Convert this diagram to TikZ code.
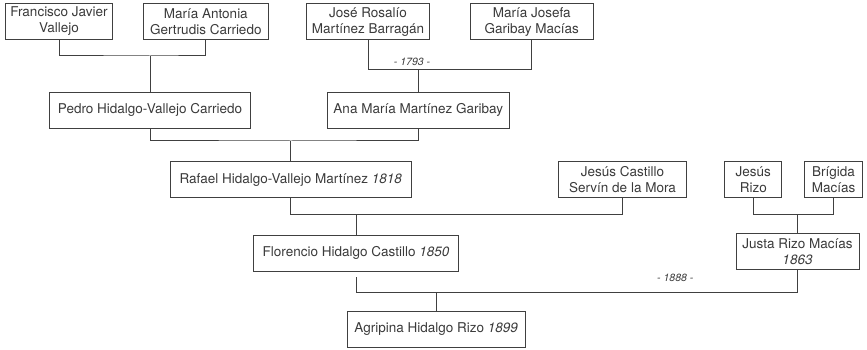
\documentclass[tikz,border=0pt]{standalone}
\usepackage{fontspec}
\setmainfont{TeX Gyre Heros}
\definecolor{textc}{HTML}{3A3A3A}
\definecolor{linec}{HTML}{404040}
\tikzset{
  person/.style={draw=linec, line width=1pt, minimum height=36pt, inner sep=0pt,
    align=center, text=textc, font=\fontsize{13.5}{16}\selectfont},
  conn/.style={draw=linec, line width=1pt},
  yearlbl/.style={text=textc, inner sep=0pt, font=\fontsize{10.5}{12}\selectfont\itshape}
}
\begin{document}
\begin{tikzpicture}[x=1pt,y=-1pt]
\useasboundingbox (0,0) rectangle (867,350);
% generation 1
\node[person, minimum width=106.6pt] (fran) at (59,21.3) {Francisco Javier\\Vallejo};
\node[person, minimum width=125pt] (mant) at (205.8,21.3) {María Antonia\\Gertrudis Carriedo};
\node[person, minimum width=122.6pt] (jose) at (368,22) {José Rosalío\\Martínez Barragán};
\node[person, minimum width=123.3pt] (mjos) at (531.7,22) {María Josefa\\Garibay Macías};
% generation 2
\node[person, minimum width=201.4pt] (pedro) at (150,110.3) {Pedro Hidalgo-Vallejo Carriedo};
\node[person, minimum width=182pt] (ana) at (418.3,110.3) {Ana María Martínez Garibay};
% generation 3
\node[person, minimum width=240.7pt] (rafael) at (290.7,179.7) {Rafael Hidalgo-Vallejo Martínez \textit{1818}};
\node[person, minimum width=128.4pt] (jcast) at (622.5,179.5) {Jesús Castillo\\Servín de la Mora};
\node[person, minimum width=56.7pt] (jrizo) at (753.3,179.5) {Jesús\\Rizo};
\node[person, minimum width=58.4pt] (brig) at (833.5,179.5) {Brígida\\Macías};
% generation 4
\node[person, minimum width=204.6pt] (flor) at (356,253.3) {Florencio Hidalgo Castillo \textit{1850}};
\node[person, minimum width=123pt] (justa) at (797.5,251.3) {Justa Rizo Macías\\\textit{1863}};
% generation 5
\node[person, minimum width=177.7pt] (agri) at (436.2,329.2) {Agripina Hidalgo Rizo \textit{1899}};
% junction points
\coordinate (j1) at (150,56);
\coordinate (j2) at (416.7,69.3);
\coordinate (j3) at (291,141);
\coordinate (j4) at (356,214.3);
\coordinate (j5) at (796,214.3);
\coordinate (j6) at (436.5,292.7);
\coordinate (fgap) at ([yshift=-5.4pt]flor.south);
% connectors
\draw[conn] (fran.south) |- (j1) -| (mant.south);
\draw[conn] (pedro.north) -- (pedro.north |- j1);
\draw[conn] (jose.south) |- (j2) -| (mjos.south);
\draw[conn] (ana.north) -- (ana.north |- j2);
\draw[conn] (pedro.south) |- (j3) -| (ana.south);
\draw[conn] (rafael.north) -- (rafael.north |- j3);
\draw[conn] (rafael.south) |- (j4) -| (jcast.south);
\draw[conn] (flor.north) -- (flor.north |- j4);
\draw[conn] (jrizo.south) |- (j5) -| (brig.south);
\draw[conn] (justa.north) -- (justa.north |- j5);
\draw[conn] (fgap) |- (j6) -| (justa.south);
\draw[conn] (agri.north) -- (agri.north |- j6);
% labels
\node[yearlbl] (y1793) at (412,61.7) {- 1793 -};
\node[yearlbl] (y1888) at (675.3,277.7) {- 1888 -};
\end{tikzpicture}
\end{document}
